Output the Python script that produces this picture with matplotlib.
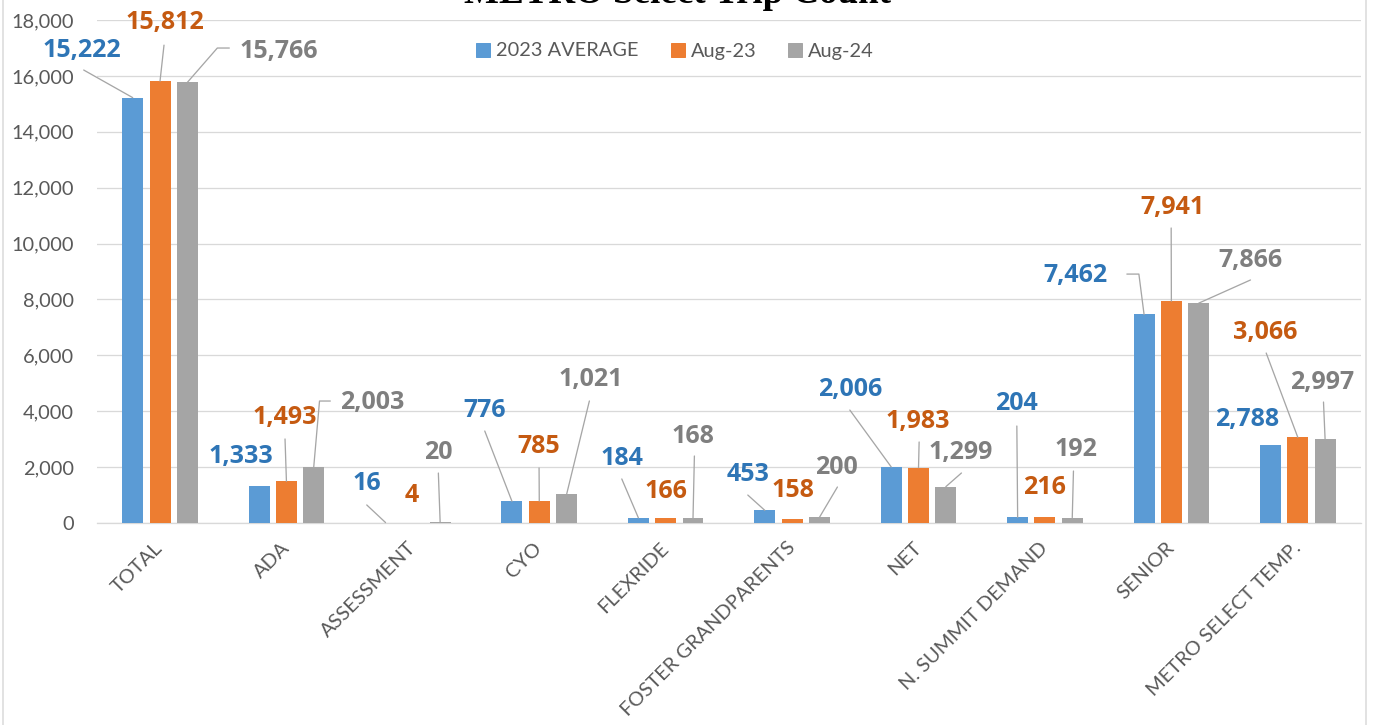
import numpy as np
import matplotlib.pyplot as plt
from matplotlib.patches import Patch, Rectangle
from matplotlib.transforms import ScaledTranslation

# データ
categories = ['TOTAL', 'ADA', 'ASSESSMENT', 'CYO', 'FLEXRIDE',
              'FOSTER GRANDPARENTS', 'NET', 'N. SUMMIT DEMAND', 'SENIOR',
              'METRO SELECT TEMP.']
series_names = ['2023 AVERAGE', 'Aug-23', 'Aug-24']
avg_2023 = [15222, 1333, 16, 776, 184, 453, 2006, 204, 7462, 2788]
aug_23 = [15812, 1493, 4, 785, 166, 158, 1983, 216, 7941, 3066]
aug_24 = [15766, 2003, 20, 1021, 168, 200, 1299, 192, 7866, 2997]
y_ticks = list(range(0, 18001, 2000))

bar_colors = ['#5B9BD5', '#ED7D31', '#A5A5A5']
text_colors = ['#2E75B6', '#C55A11', '#7F7F7F']

# label layout: (text dx, text dy, leader start dx, dy, elbow angle) in px from bar top
layout_avg = [(-51, 47.6, -49, 27.6, None), (-18.4, 29.7, None, None, None),
              (-18.8, 38.6, -18.8, 17.6, None), (-27.2, 91.3, -27.2, 70.3, None),
              (-16.6, 58.9, -16.6, 38.9, None), (-17, 36.3, -17, 15.3, None),
              (-41.4, 77.9, -41.4, 56.9, None), (-0.8, 113.3, -0.8, 91.3, None),
              (-68.2, 39.4, -17.2, 40.4, 97.3), (-23.6, 25.1, None, None, None)]
layout_a23 = [(5, 59, 4, 36, None), (-1.4, 63.3, -1.4, 42.3, None),
              (-0.8, 27, None, None, None), (-0.2, 54.1, -0.2, 33.1, None),
              (0.4, 26.4, None, None, None), (1, 27.6, None, None, None),
              (-0.4, 45.6, 0.6, 25.6, None), (-0.8, 29, None, None, None),
              (0.8, 93.1, -0.2, 73.1, None), (-32.6, 105.3, -31.6, 84.3, None)]
layout_a24 = [(91, 31.4, 42, 34.4, 48.9), (58.6, 65, 16.6, 66, 85),
              (-1.8, 70.4, -1.8, 49.4, None), (23.8, 114.5, 22.8, 93.5, None),
              (0.4, 82.3, 1.4, 62.3, None), (17, 50.4, 18, 30.4, None),
              (14.6, 34.7, 15.6, 13.7, None), (3.2, 68.6, 1.2, 46.6, None),
              (51.8, 42.2, 51.8, 23.2, None), (-2.6, 57.2, -1.6, 37.2, None)]

W, H, DPI = 1373, 725, 72
fig = plt.figure(figsize=(W / DPI, H / DPI), dpi=DPI)
ax = fig.add_axes([96.8 / W, 1 - 523 / H, (1361 - 96.8) / W, 503 / H])

x = np.arange(len(categories))
width = 0.166
offsets = [-0.216, 0, 0.216]
series = [avg_2023, aug_23, aug_24]
layouts = [layout_avg, layout_a23, layout_a24]

for vals, off, bc, tc, lay in zip(series, offsets, bar_colors, text_colors, layouts):
    ax.bar(x + off, vals, width, color=bc, zorder=3)
    for xi, v, (tx, ty, lx, ly, ang) in zip(x, vals, lay):
        ax.annotate(f'{v:,}', (xi + off, v), xytext=(tx, ty), textcoords='offset points',
                    ha='center', va='center', color=tc, fontsize=25,
                    fontfamily='Open Sans', fontweight='bold', zorder=5)
        if lx is not None:
            cs = 'arc3' if ang is None else f'angle,angleA=0,angleB={ang},rad=0'
            ax.annotate('', (xi + off, v), xytext=(lx, ly), textcoords='offset points',
                        arrowprops=dict(arrowstyle='-', color='#A6A6A6', lw=1.3,
                                        shrinkA=0, shrinkB=0, connectionstyle=cs),
                        zorder=4)

ax.set_xlim(-0.5, len(categories) - 0.5)
ax.set_ylim(0, 18000)
ax.set_yticks(y_ticks)
ax.set_yticklabels([f'{t:,}' for t in y_ticks], fontfamily='Lato', fontsize=20,
                   color='#595959')
ax.set_xticks(x)
ax.set_xticklabels(categories, rotation=45, ha='right', va='center',
                   rotation_mode='anchor', fontfamily='Lato', fontsize=20,
                   color='#595959')
shift = ScaledTranslation(5 / DPI, -3 / DPI, fig.dpi_scale_trans)
for lab in ax.get_xticklabels():
    lab.set_transform(lab.get_transform() + shift)
ax.tick_params(axis='y', length=0, pad=23)
ax.tick_params(axis='x', length=0, pad=22)
ax.grid(axis='y', color='#D9D9D9', lw=1.3, zorder=0)
for s in ['left', 'right', 'top']:
    ax.spines[s].set_visible(False)
ax.spines['bottom'].set_color('#D9D9D9')
ax.spines['bottom'].set_linewidth(1.3)

handles = [Patch(color=c) for c in bar_colors]
fig.legend(handles, series_names, loc='center', bbox_to_anchor=(675 / W, 1 - 51 / H),
           ncol=3, frameon=False, prop={'family': 'Lato', 'size': 20},
           labelcolor='#595959', handlelength=0.7, handleheight=0.7,
           handletextpad=0.3, columnspacing=1.6)

fig.text(677 / W, 1 - 3 / H, 'METRO Select Trip Count', ha='center', va='baseline',
         fontfamily='Liberation Serif', fontweight='bold', fontsize=37)

fig.patches.append(Rectangle((3 / W, -0.05), 1363 / W, 1.2, transform=fig.transFigure,
                             fill=False, ec='#D9D9D9', lw=1.5))

fig.savefig('out.png', dpi=DPI)
